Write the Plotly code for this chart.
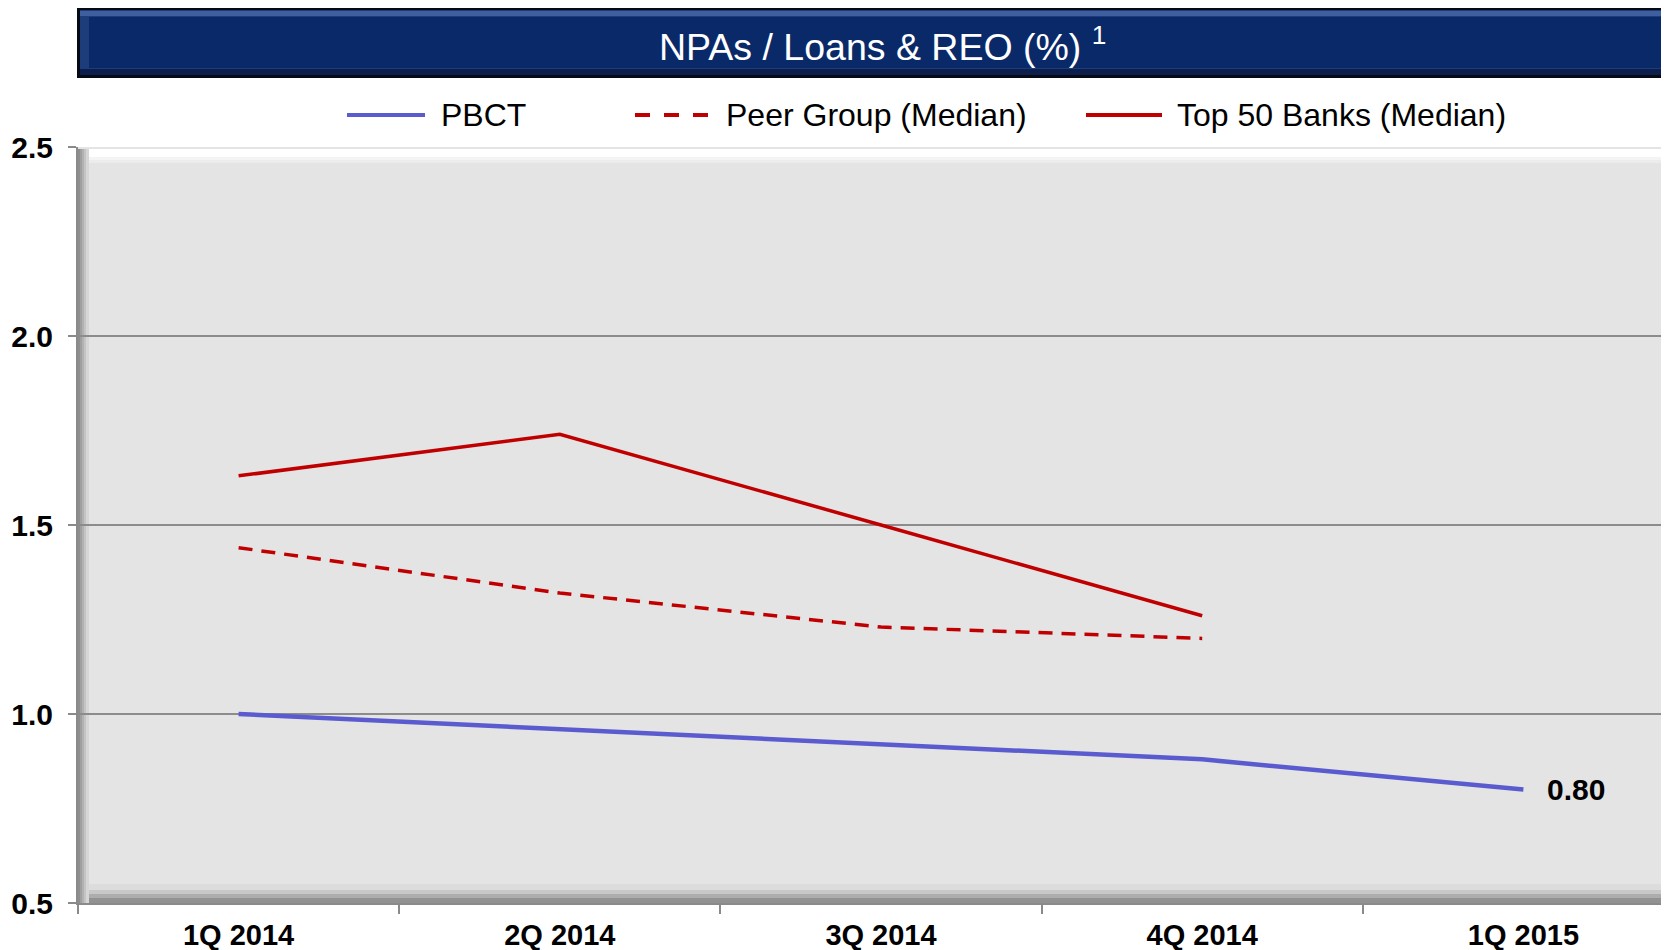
import plotly.graph_objects as go

# ---- data ----
quarters = ["1Q 2014", "2Q 2014", "3Q 2014", "4Q 2014", "1Q 2015"]
pbct = [1.00, 0.96, 0.92, 0.88, 0.80]
peer_group = [1.44, 1.32, 1.23, 1.20, None]
top50 = [1.63, 1.74, 1.50, 1.26, None]
series_names = ["PBCT", "Peer Group (Median)", "Top 50 Banks (Median)"]
title_text = "NPAs / Loans & REO (%) <sup>1</sup>"
y_ticks = [0.5, 1.0, 1.5, 2.0, 2.5]

# ---- layout geometry (pixels, page has an 8px body margin) ----
OFF = 8
W, H = 1669 - OFF, 950 - OFF
L, T, B = 78, 147, 903          # screen coordinates of plot area
PW, PH = 1669 - L, B - T


def px(p):
    return (p - L) / PW


def py(p):
    return (B - p) / PH


BLUE = "#5B5BD0"
RED = "#C00000"
FONT = "Liberation Sans, Arial, sans-serif"

fig = go.Figure()
fig.add_trace(go.Scatter(x=quarters, y=pbct, mode="lines", name=series_names[0],
                         line=dict(color=BLUE, width=4.5), showlegend=False))
fig.add_trace(go.Scatter(x=quarters, y=peer_group, mode="lines", name=series_names[1],
                         line=dict(color=RED, width=3.5, dash="14px,9px"), showlegend=False))
fig.add_trace(go.Scatter(x=quarters, y=top50, mode="lines", name=series_names[2],
                         line=dict(color=RED, width=3.5), showlegend=False))

shapes = []
# title bar
shapes.append(dict(type="rect", xref="paper", yref="paper", x0=px(77), x1=px(1720), y0=py(8), y1=py(78),
                   fillcolor="#050A14", line=dict(width=0), layer="above"))
shapes.append(dict(type="rect", xref="paper", yref="paper", x0=px(80), x1=px(1720), y0=py(10), y1=py(75),
                   fillcolor="#1C3C7A", line=dict(width=0), layer="above"))
shapes.append(dict(type="rect", xref="paper", yref="paper", x0=px(80), x1=px(1720), y0=py(11), y1=py(16),
                   fillcolor="#3F5F9F", line=dict(width=0), layer="above"))
shapes.append(dict(type="rect", xref="paper", yref="paper", x0=px(80), x1=px(1720), y0=py(69), y1=py(75),
                   fillcolor="#0C1F4C", line=dict(width=0), layer="above"))
shapes.append(dict(type="rect", xref="paper", yref="paper", x0=px(89), x1=px(1720), y0=py(17), y1=py(68),
                   fillcolor="#0A2968", line=dict(width=0), layer="above"))

# plot-area bevel (below grid)
top_band = [(149, 157, "#FFFFFF"), (157, 160, "#F4F4F4"), (160, 163, "#ECECEC")]
for y0, y1, c in top_band:
    shapes.append(dict(type="rect", xref="paper", yref="paper", x0=0, x1=1, y0=py(y1), y1=py(y0),
                       fillcolor=c, line=dict(width=0), layer="below"))
bottom_band = [(884, 890, "#DCDCDC"), (890, 894, "#C8C8C8"), (894, 898, "#ADADAD"), (898, 903, "#929292")]
for y0, y1, c in bottom_band:
    shapes.append(dict(type="rect", xref="paper", yref="paper", x0=0, x1=1, y0=py(y1), y1=py(y0),
                       fillcolor=c, line=dict(width=0), layer="below"))
left_band = [(78, 80, "#8E8E8E"), (80, 82, "#A0A0A0"), (82, 84, "#B2B2B2"), (84, 86, "#C4C4C4"), (86, 89, "#D6D6D6")]
for x0, x1, c in left_band:
    shapes.append(dict(type="rect", xref="paper", yref="paper", x0=px(x0), x1=px(x1), y0=py(B), y1=py(149),
                       fillcolor=c, line=dict(width=0), layer="below"))

# manual legend
leg_y = py(115)
shapes.append(dict(type="line", xref="paper", yref="paper", x0=px(347), x1=px(425), y0=leg_y, y1=leg_y,
                   line=dict(color=BLUE, width=4)))
shapes.append(dict(type="line", xref="paper", yref="paper", x0=px(635), x1=px(708), y0=leg_y, y1=leg_y,
                   line=dict(color=RED, width=4, dash="15px,14px")))
shapes.append(dict(type="line", xref="paper", yref="paper", x0=px(1086), x1=px(1162), y0=leg_y, y1=leg_y,
                   line=dict(color=RED, width=4)))

annotations = []
for name, xpos in zip(series_names, [439, 724, 1175]):
    annotations.append(dict(text=name, xref="paper", yref="paper", x=px(xpos), y=leg_y,
                            xanchor="left", yanchor="middle", showarrow=False,
                            font=dict(family=FONT, size=32, color="#000000")))
# title
annotations.append(dict(text=title_text, xref="paper", yref="paper", x=px(657), y=py(44),
                        xanchor="left", yanchor="middle", showarrow=False,
                        font=dict(family=FONT, size=37.5, color="#FFFFFF")))
# data label
annotations.append(dict(text=f"{pbct[-1]:.2f}", x=quarters[-1], y=pbct[-1], xref="x", yref="y",
                        xanchor="left", yanchor="middle", xshift=22, showarrow=False,
                        font=dict(family=FONT, size=30, color="#000000", weight="bold")))

fig.update_layout(
    width=W, height=H, autosize=False,
    margin=dict(l=L - OFF, r=0, t=T - OFF, b=H - (B - OFF), pad=0, autoexpand=False),
    paper_bgcolor="#FFFFFF",
    plot_bgcolor="#E4E4E4",
    shapes=shapes,
    annotations=annotations,
    showlegend=False,
    xaxis=dict(
        type="category", range=[-0.5, -0.5 + PW / 321.2], automargin=False,
        tickson="boundaries", ticks="outside", ticklen=9, tickwidth=1.5, tickcolor="#8A8A8A",
        showgrid=False, showline=True, linecolor="#8A8A8A", linewidth=2,
        ticklabelstandoff=5,
        tickfont=dict(family=FONT, size=29, color="#000000", weight="bold"),
        fixedrange=True,
    ),
    yaxis=dict(
        range=[0.5, 2.5], tickvals=y_ticks, tickformat=".1f", automargin=False,
        ticks="outside", ticklen=8, tickwidth=1.5, tickcolor="#8A8A8A",
        showgrid=True, gridcolor="#8C8C8C", gridwidth=1.5,
        showline=True, linecolor="#8A8A8A", linewidth=2, zeroline=False,
        ticklabelstandoff=9,
        tickfont=dict(family=FONT, size=30, color="#000000", weight="bold"),
        fixedrange=True,
    ),
)

fig.write_html("out.html")
